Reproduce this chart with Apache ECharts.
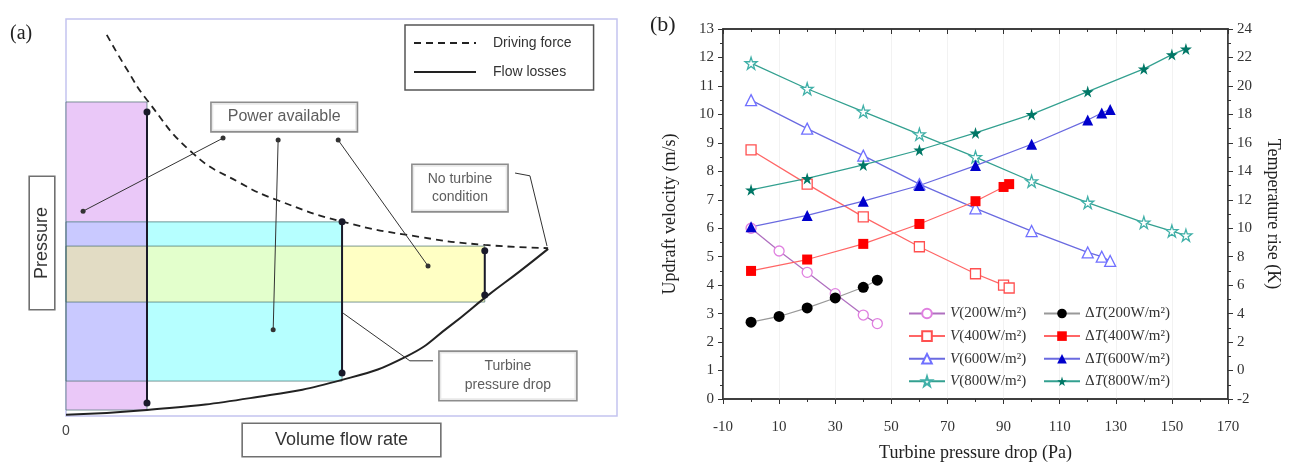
<!DOCTYPE html>
<html>
<head>
<meta charset="utf-8">
<script src="https://cdn.jsdelivr.net/npm/echarts@6/dist/echarts.min.js"></script>
<style>
html, body { margin: 0; padding: 0; background: #fff; }
#chart { width: 1290px; height: 466px; }
</style>
</head>
<body>
<div id="chart"></div>
<script>
// ---------- panel (a): schematic, arbitrary units 0..100 ----------
var drivingForce = [[7.4, 96.0], [11.1, 87.2], [14.7, 79.6], [23.0, 66.2], [31.6, 58.7], [38.3, 54.4], [50.3, 48.9], [64.2, 45.1], [76.0, 43.1], [87.5, 42.3]];
var flowLosses = [[0, 0.3], [14.7, 1.5], [33.4, 4.5], [50.1, 9.1], [61.9, 15.1], [69.7, 22.7], [76.4, 30.2], [82.4, 36.5], [87.5, 42.1]];
// [x0, x1, y0, y1]
var powerBoxes = [[0, 14.7, 1.5, 79.1], [0, 50.1, 8.8, 48.9], [0, 76.0, 28.7, 42.8]];
var overlapBoxes = [[0, 14.7, 8.8, 48.9], [14.7, 50.1, 28.7, 42.8], [0, 14.7, 28.7, 42.8]];
var dropArrows = [[[14.7, 76.6], [14.7, 3.3]], [[50.1, 48.9], [50.1, 10.8]], [[76.0, 41.6], [76.0, 30.5]]];
var powerLeaders = [[[28.5, 70.0], [3.1, 51.6]], [[38.5, 69.5], [37.6, 21.7]], [[49.4, 69.5], [65.7, 37.8]]];
var otherLeaders = [[[81.5, 61.2], [84.2, 60.5], [87.3, 42.8]], [[50.3, 25.9], [62.4, 13.9], [66.6, 13.9]]];
var notes = [['Power available', 39.6, 75.3], ['No turbine\ncondition', 71.5, 57.4], ['Turbine\npressure drop', 80.2, 10.1]];

// ---------- panel (b) ----------
var xTicks = [-10, 170, 20];
var v200 = [[0, 6.0], [10, 5.2], [20, 4.45], [30, 3.7], [40, 2.95], [45, 2.65]];
var dT200 = [[0, 3.4], [10, 3.8], [20, 4.4], [30, 5.1], [40, 5.85], [45, 6.35]];
var v400 = [[0, 8.75], [20, 7.55], [40, 6.4], [60, 5.35], [80, 4.4], [90, 4.0], [92, 3.9]];
var dT400 = [[0, 7.0], [20, 7.8], [40, 8.9], [60, 10.3], [80, 11.9], [90, 12.9], [92, 13.1]];
var v600 = [[0, 10.5], [20, 9.5], [40, 8.55], [60, 7.55], [80, 6.7], [100, 5.9], [120, 5.15], [125, 5.0], [128, 4.85]];
var dT600 = [[0, 10.1], [20, 10.9], [40, 11.9], [60, 13.0], [80, 14.4], [100, 15.9], [120, 17.6], [125, 18.1], [128, 18.35]];
var v800 = [[0, 11.8], [20, 10.9], [40, 10.1], [60, 9.3], [80, 8.5], [100, 7.65], [120, 6.9], [140, 6.2], [150, 5.9], [155, 5.75]];
var dT800 = [[0, 12.7], [20, 13.5], [40, 14.45], [60, 15.5], [80, 16.7], [100, 18.0], [120, 19.6], [140, 21.2], [150, 22.2], [155, 22.6]];
var vNames = ['V(200W/m²)', 'V(400W/m²)', 'V(600W/m²)', 'V(800W/m²)'];
var dTNames = ['ΔT(200W/m²)', 'ΔT(400W/m²)', 'ΔT(600W/m²)', 'ΔT(800W/m²)'];

// ---------- styles ----------
var SERIF = 'Liberation Serif', SANS = 'Liberation Sans';
var STAR = 'path://M50,0 L61,35 L98,35 L68,57 L79,91 L50,70 L21,91 L32,57 L2,35 L39,35 Z';
var powerFills = ['#eac8f8', '#b6ffff', '#ffffc4'];
var overlapFills = ['#c9c9ff', '#e3ffcc', '#e2dcc4'];
var noteStyles = [
    {fontSize: 16, padding: [6, 16]},
    {fontSize: 14, padding: [5, 15], lineHeight: 18},
    {fontSize: 14, padding: [5, 25], lineHeight: 19}
];
var vLine = ['#b070c0', '#ff6666', '#6a6ae0', '#33a090'];
var vEdge = ['#e080e0', '#ff5050', '#7070ff', '#40b0a8'];
var vSym = ['circle', 'rect', 'triangle', STAR];
var vSize = [10, 10, 11, 12];
var dTFill = ['#000000', '#ff0000', '#0000cc', '#007766'];
var dTLine = ['#999999', '#ff6666', '#6a6ae0', '#33a090'];
var dTSize = [11, 10, 11, 12];

var chart = echarts.init(document.getElementById('chart'));

function boxSeries(boxes, fills, stroke) {
    return {
        type: 'custom', xAxisIndex: 0, yAxisIndex: 0, silent: true,
        data: boxes, encode: {x: [0, 1], y: [2, 3]},
        renderItem: function (params, api) {
            var a = api.coord([api.value(0), api.value(3)]);
            var b = api.coord([api.value(1), api.value(2)]);
            return {
                type: 'rect',
                shape: {x: a[0], y: a[1], width: b[0] - a[0], height: b[1] - a[1]},
                style: {fill: fills ? fills[params.dataIndex] : 'none', stroke: stroke || null, lineWidth: 1}
            };
        }
    };
}

function pathSeries(pts, color, width, sym, symSize) {
    return {
        type: 'line', xAxisIndex: 0, yAxisIndex: 0, data: pts, silent: true,
        symbol: sym, symbolSize: symSize, showSymbol: sym !== 'none',
        itemStyle: {color: color}, lineStyle: {color: color, width: width}
    };
}

var series = [];
series.push(boxSeries(powerBoxes, powerFills, null));
series.push(boxSeries(overlapBoxes, overlapFills, null));
series.push(boxSeries(powerBoxes, null, 'rgba(70,110,110,0.7)'));
series.push({
    name: 'Driving force', type: 'line', xAxisIndex: 0, yAxisIndex: 0, data: drivingForce,
    smooth: true, symbol: 'none', lineStyle: {color: '#222', width: 1.8, type: [7, 5]}, itemStyle: {color: '#222'}
});
series.push({
    name: 'Flow losses', type: 'line', xAxisIndex: 0, yAxisIndex: 0, data: flowLosses,
    smooth: true, symbol: 'none', lineStyle: {color: '#222', width: 2}, itemStyle: {color: '#222'}
});
dropArrows.forEach(function (p) { series.push(pathSeries(p, '#1a1a2a', 2, 'circle', 7)); });
powerLeaders.forEach(function (p) { series.push(pathSeries(p, '#333', 1, 'circle', 5)); });
otherLeaders.forEach(function (p) { series.push(pathSeries(p, '#333', 1, 'none', 0)); });
notes.forEach(function (n, i) {
    series.push({
        type: 'scatter', xAxisIndex: 0, yAxisIndex: 0, silent: true, symbolSize: 0.1,
        itemStyle: {color: 'transparent'},
        data: [{name: n[0], value: [n[1], n[2]]}],
        label: Object.assign({
            show: true, position: 'inside', formatter: '{b}', color: '#333', fontFamily: SANS,
            backgroundColor: '#fff', borderColor: '#707070', borderWidth: 1.6, align: 'center'
        }, noteStyles[i])
    });
});

[v200, v400, v600, v800].forEach(function (d, i) {
    series.push({
        name: vNames[i], type: 'line', xAxisIndex: 1, yAxisIndex: 1, data: d,
        symbol: vSym[i], symbolSize: vSize[i],
        itemStyle: {color: '#fff', borderColor: vEdge[i], borderWidth: 1.3},
        lineStyle: {color: vLine[i], width: 1.3}
    });
});
[dT200, dT400, dT600, dT800].forEach(function (d, i) {
    series.push({
        name: dTNames[i], type: 'line', xAxisIndex: 1, yAxisIndex: 2, data: d,
        symbol: i === 0 ? 'circle' : vSym[i], symbolSize: dTSize[i],
        itemStyle: {color: dTFill[i]},
        lineStyle: {color: dTLine[i], width: 1.2}
    });
});

var tickLabel = {fontFamily: SERIF, fontSize: 15, color: '#333'};
var axisTitle = {fontFamily: SERIF, fontSize: 18, color: '#222'};
var blackLine = {show: true, onZero: false, lineStyle: {color: '#333', width: 1.5}};
var tick = {inside: false, length: 5, lineStyle: {color: '#333'}};
var minor = {show: true, splitNumber: 2, length: 3, lineStyle: {color: '#333'}};
var boxName = {fontFamily: SANS, color: '#333', borderColor: '#707070', borderWidth: 1.6, backgroundColor: '#fff'};
var legendText = {fontFamily: SERIF, fontSize: 15, color: '#333', rich: {i: {fontFamily: SERIF, fontSize: 15, fontStyle: 'italic', color: '#333'}}};

chart.setOption({
    animation: false,
    backgroundColor: '#fff',
    grid: [
        {left: 66, top: 19, width: 551, height: 397, outerBoundsMode: 'none', show: true, borderColor: '#c4c4f0', borderWidth: 1.5},
        {left: 723, top: 29, width: 505, height: 370, outerBoundsMode: 'none', show: true, borderColor: '#333', borderWidth: 1.5}
    ],
    xAxis: [
        {
            gridIndex: 0, type: 'value', min: 0, max: 100, interval: 100,
            axisLine: {show: false}, axisTick: {show: false}, splitLine: {show: false},
            axisLabel: {formatter: function (v) { return v === 0 ? '0' : ''; }, fontFamily: SANS, fontSize: 14, color: '#444', margin: 8},
            name: 'Volume flow rate', nameLocation: 'middle', nameGap: 8, nameMoveOverlap: false,
            nameTextStyle: Object.assign({fontSize: 18, padding: [7, 32]}, boxName)
        },
        {
            gridIndex: 1, type: 'value', min: xTicks[0], max: xTicks[1], interval: xTicks[2],
            axisLine: blackLine, axisTick: tick, minorTick: minor,
            splitLine: {show: true, lineStyle: {color: '#f2f2f2'}},
            axisLabel: Object.assign({margin: 21}, tickLabel),
            name: 'Turbine pressure drop (Pa)', nameLocation: 'middle', nameGap: 45, nameTextStyle: axisTitle
        },
        {
            gridIndex: 1, type: 'value', position: 'top', min: xTicks[0], max: xTicks[1], interval: xTicks[2],
            axisLine: blackLine, axisTick: {inside: true, length: 5, lineStyle: {color: '#333'}},
            minorTick: minor, splitLine: {show: false}, axisLabel: {show: false}
        }
    ],
    yAxis: [
        {
            gridIndex: 0, type: 'value', min: 0, max: 100,
            axisLine: {show: false}, axisTick: {show: false}, splitLine: {show: false}, axisLabel: {show: false}
        },
        {
            gridIndex: 1, type: 'value', min: 0, max: 13, interval: 1,
            axisLine: blackLine, axisTick: tick, minorTick: minor,
            splitLine: {show: false}, axisLabel: Object.assign({margin: 9}, tickLabel),
            name: 'Updraft velocity (m/s)', nameLocation: 'middle', nameGap: 44, nameTextStyle: axisTitle
        },
        {
            gridIndex: 1, type: 'value', position: 'right', min: -2, max: 24, interval: 2,
            axisLine: blackLine, axisTick: tick, minorTick: minor,
            splitLine: {show: false}, axisLabel: Object.assign({margin: 9}, tickLabel),
            name: 'Temperature rise (K)', nameLocation: 'middle', nameRotate: -90, nameGap: 36, nameTextStyle: axisTitle
        }
    ],
    legend: [
        {
            data: ['Driving force', 'Flow losses'], orient: 'vertical', left: 405, top: 25,
            borderColor: '#555', borderWidth: 1.5, padding: [11, 22, 11, 8],
            itemWidth: 62, itemHeight: 12, itemGap: 15, itemStyle: {opacity: 0},
            textStyle: {fontFamily: SANS, fontSize: 14, color: '#333', padding: [0, 0, 0, 12]}
        },
        {
            data: vNames, orient: 'vertical', left: 908, top: 306, padding: 0,
            itemWidth: 36, itemHeight: 12, itemGap: 7.6,
            formatter: function (n) { return '{i|V}' + n.slice(1); },
            textStyle: legendText
        },
        {
            data: dTNames, orient: 'vertical', left: 1043, top: 306, padding: 0,
            itemWidth: 36, itemHeight: 12, itemGap: 7.6,
            formatter: function (n) { return 'Δ{i|T}' + n.slice(2); },
            textStyle: legendText
        }
    ],
    graphic: [
        {type: 'text', left: 10, top: 24, style: {text: '(a)', font: '20px "Liberation Serif"', fill: '#222'}},
        {type: 'text', left: 650, top: 14, style: {text: '(b)', font: '22px "Liberation Serif"', fill: '#222'}},
        {
            type: 'text', x: 42, y: 243, rotation: Math.PI / 2,
            style: {
                text: 'Pressure', align: 'center', verticalAlign: 'middle', font: '18px "Liberation Sans"', fill: '#333',
                backgroundColor: '#fff', borderColor: '#707070', borderWidth: 1.6, padding: [3, 30]
            }
        }
    ],
    series: series
});
</script>
</body>
</html>
